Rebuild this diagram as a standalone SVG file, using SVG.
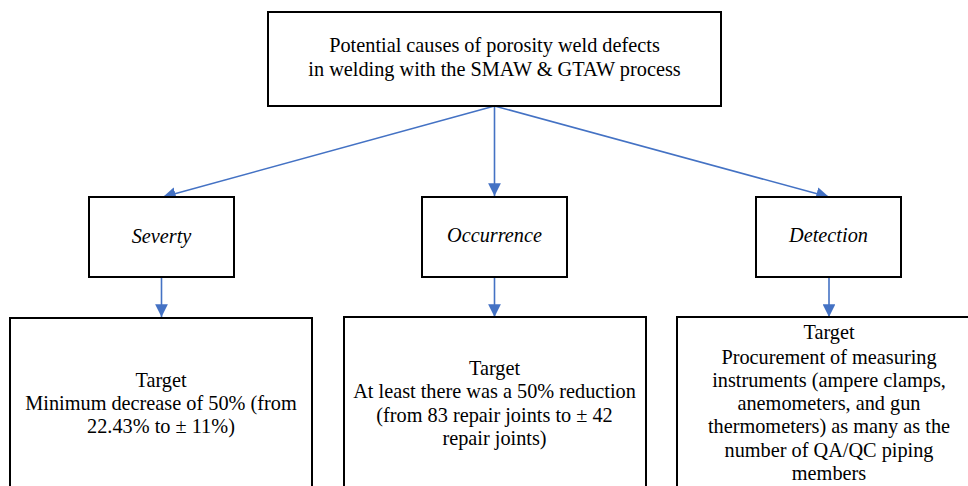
<svg xmlns="http://www.w3.org/2000/svg" width="968" height="486" viewBox="0 0 968 486" font-family="'Liberation Serif', 'DejaVu Serif', 'Times New Roman', serif">
  <style>
    .box { fill: #ffffff; stroke: #000000; stroke-width: 2; }
    text { font-family: 'Liberation Serif', 'DejaVu Serif', 'Times New Roman', serif; }
    .txt { font-size: 20.3px; fill: #000000; text-anchor: middle; }
    .it { font-style: italic; }
    .link { stroke: #4472C4; stroke-width: 1.6; fill: none; marker-end: url(#arrow); }
  </style>
  <defs>
    <marker id="arrow" viewBox="0 0 10 10" refX="10" refY="5" markerWidth="8" markerHeight="8" markerUnits="strokeWidth" orient="auto">
      <path d="M0,0 L10,5 L0,10 Z" fill="#4472C4"/>
    </marker>
  </defs>

  <!-- connectors -->
  <g id="connectors">
    <line class="link" x1="494.5" y1="106" x2="163" y2="197"/>
    <line class="link" x1="494.5" y1="106" x2="494.5" y2="196"/>
    <line class="link" x1="494.5" y1="106" x2="829" y2="197"/>
    <line class="link" x1="161.5" y1="277" x2="161.5" y2="317"/>
    <line class="link" x1="494.5" y1="277" x2="494.5" y2="317"/>
    <line class="link" x1="829" y1="277" x2="829" y2="317"/>
  </g>

  <!-- root cause -->
  <g id="root">
    <rect class="box" x="268" y="12" width="453" height="94"/>
    <text class="txt" x="494.5" y="52">Potential causes of porosity weld defects</text>
    <text class="txt" x="494.5" y="76">in welding with the SMAW &amp; GTAW process</text>
  </g>

  <!-- criteria -->
  <g id="severity">
    <rect class="box" x="89" y="197" width="145" height="80"/>
    <text class="txt it" x="161.5" y="243">Severty</text>
  </g>
  <g id="occurrence">
    <rect class="box" x="422" y="197" width="145" height="80"/>
    <text class="txt it" x="494.5" y="242">Occurrence</text>
  </g>
  <g id="detection">
    <rect class="box" x="756" y="197" width="145" height="80"/>
    <text class="txt it" x="828.5" y="242">Detection</text>
  </g>

  <!-- targets -->
  <g id="target-severity">
    <rect class="box" x="10" y="318" width="302" height="180"/>
    <text class="txt" x="161" y="387">Target</text>
    <text class="txt" x="161" y="410">Minimum decrease of 50% (from</text>
    <text class="txt" x="161" y="433">22.43% to ± 11%)</text>
  </g>
  <g id="target-occurrence">
    <rect class="box" x="344" y="317" width="302" height="180"/>
    <text class="txt" x="494.5" y="375">Target</text>
    <text class="txt" x="494.5" y="398">At least there was a 50% reduction</text>
    <text class="txt" x="494.5" y="422">(from 83 repair joints to ± 42</text>
    <text class="txt" x="494.5" y="445">repair joints)</text>
  </g>
  <g id="target-detection">
    <rect class="box" x="677" y="317" width="304" height="180"/>
    <text class="txt" x="829" y="339">Target</text>
    <text class="txt" x="829" y="364">Procurement of measuring</text>
    <text class="txt" x="829" y="387">instruments (ampere clamps,</text>
    <text class="txt" x="829" y="410">anemometers, and gun</text>
    <text class="txt" x="829" y="433">thermometers) as many as the</text>
    <text class="txt" x="829" y="457">number of QA/QC piping</text>
    <text class="txt" x="829" y="480">members</text>
  </g>
</svg>
